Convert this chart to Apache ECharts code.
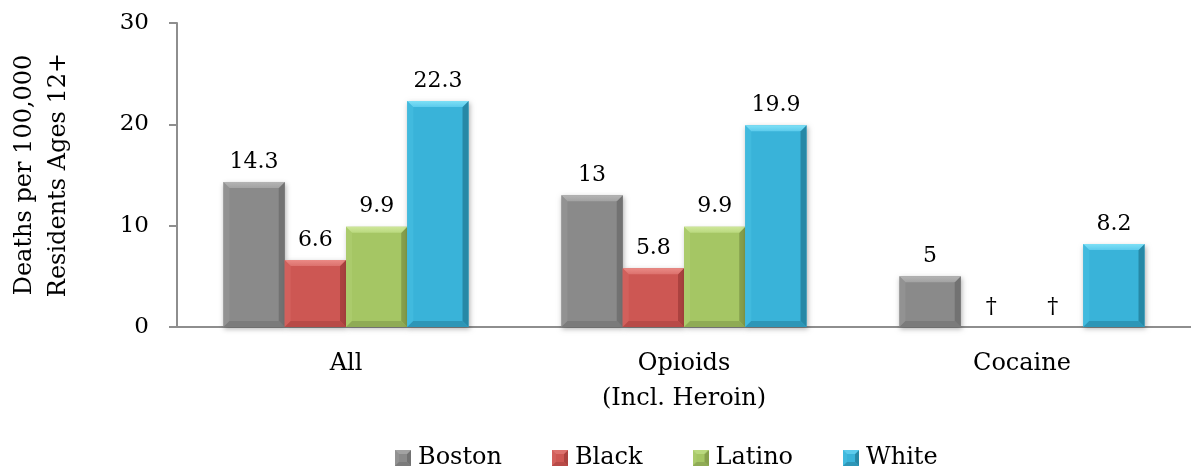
<!DOCTYPE html>
<html>
<head>
<meta charset="utf-8">
<script src="https://cdn.jsdelivr.net/npm/echarts@6/dist/echarts.min.js"></script>
<style>
  html, body { margin: 0; padding: 0; background: #fff; }
  #chart { width: 1191px; height: 466px; }
</style>
</head>
<body>
<div id="chart"></div>
<script>
// Drug overdose death rates by group (per 100,000 residents aged 12+)
const categories = ['All', 'Opioids\n(Incl. Heroin)', 'Cocaine'];
const seriesNames = ['Boston', 'Black', 'Latino', 'White'];
const boston = [14.3, 13, 5];
const black = [6.6, 5.8, null];
const latino = [9.9, 9.9, null];
const white = [22.3, 19.9, 8.2];
const yTicks = [0, 10, 20, 30];
const suppressedMark = '\u2020';

// Bevelled bar palette: body, top, left, right, bottom faces
const palettes = [
  { body: '#8a8a8a', topHi: '#b4b4b4', top: '#a2a2a2', left: '#929292', right: '#727272', bottom: '#7b7b7b' },
  { body: '#cd5753', topHi: '#ea8a85', top: '#dc716d', left: '#d2605c', right: '#ab423f', bottom: '#b84a47' },
  { body: '#a5c664', topHi: '#cfe79a', top: '#bad97f', left: '#abcb6c', right: '#86a04c', bottom: '#8fab55' },
  { body: '#39b3d9', topHi: '#7ee0f6', top: '#5ccbec', left: '#41bade', right: '#2688a6', bottom: '#2d96b7' }
];
const seriesValues = [boston, black, latino, white];
const FONT = 'DejaVu Serif';

function bevelShapes(x0, yT, x1, yB, p, b) {
  const topFill = {
    type: 'linear', x: 0, y: 0, x2: 0, y2: 1,
    colorStops: [{ offset: 0, color: p.topHi }, { offset: 1, color: p.top }]
  };
  return [
    { type: 'rect', shape: { x: x0, y: yT, width: x1 - x0, height: yB - yT },
      style: { fill: p.body, shadowBlur: 5, shadowOffsetY: 2, shadowOffsetX: 1, shadowColor: 'rgba(0,0,0,0.3)' } },
    { type: 'polygon', shape: { points: [[x0, yT], [x0 + b, yT + b], [x0 + b, yB - b], [x0, yB]] }, style: { fill: p.left } },
    { type: 'polygon', shape: { points: [[x1, yT], [x1, yB], [x1 - b, yB - b], [x1 - b, yT + b]] }, style: { fill: p.right } },
    { type: 'polygon', shape: { points: [[x0, yB], [x0 + b, yB - b], [x1 - b, yB - b], [x1, yB]] }, style: { fill: p.bottom } },
    { type: 'polygon', shape: { points: [[x0, yT], [x1, yT], [x1 - b, yT + b], [x0 + b, yT + b]] }, style: { fill: topFill } }
  ];
}

function legendIcon(p) {
  const c = document.createElement('canvas');
  c.width = 16; c.height = 16;
  const ctx = c.getContext('2d');
  const shapes = bevelShapes(0, 0, 16, 16, p, 4);
  shapes.forEach((s) => {
    ctx.fillStyle = typeof s.style.fill === 'string' ? s.style.fill : p.top;
    if (s.type === 'rect') {
      ctx.fillRect(0, 0, 16, 16);
    } else {
      ctx.beginPath();
      s.shape.points.forEach((pt, i) => (i ? ctx.lineTo(pt[0], pt[1]) : ctx.moveTo(pt[0], pt[1])));
      ctx.closePath();
      ctx.fill();
    }
  });
  return 'image://' + c.toDataURL();
}

const GROUP_FRACTION = 0.725;

function makeRenderItem(k) {
  return function (params, api) {
    const cat = api.value(0);
    const val = api.value(1);
    const band = api.size([1, 0])[0];
    const barW = band * GROUP_FRACTION / seriesNames.length;
    const center = api.coord([cat, 0])[0];
    const x0 = center - (barW * seriesNames.length) / 2 + k * barW;
    const x1 = x0 + barW;
    const base = api.coord([cat, 0])[1];
    const children = [];
    let labelY = base;
    let labelText = suppressedMark;
    if (!isNaN(val) && val !== null) {
      const top = api.coord([cat, val])[1];
      const b = Math.min(6, (base - top) / 2, barW / 2);
      bevelShapes(x0, top, x1, base, palettes[k], b).forEach((s) => children.push(s));
      labelY = top;
      labelText = String(val);
    }
    children.push({
      type: 'text',
      style: {
        x: (x0 + x1) / 2, y: labelY - 9,
        text: labelText, fill: '#000',
        font: '22px "' + FONT + '"',
        textAlign: 'center', textVerticalAlign: 'bottom'
      }
    });
    return { type: 'group', children: children };
  };
}

const chart = echarts.init(document.getElementById('chart'), null, { renderer: 'canvas' });

const series = seriesNames.map((name, k) => ({
  type: 'custom',
  name: name,
  renderItem: makeRenderItem(k),
  itemStyle: { color: palettes[k].body },
  encode: { x: 0, y: 1 },
  data: seriesValues[k].map((v, i) => [i, v === null ? '-' : v])
}));

chart.setOption({
  animation: false,
  backgroundColor: '#ffffff',
  textStyle: { fontFamily: FONT },
  grid: { left: 177, top: 23, width: 1026, bottom: 139, containLabel: false },
  legend: {
    left: 390,
    top: 441,
    itemWidth: 16,
    itemHeight: 16,
    itemGap: 50,
    textStyle: { fontFamily: FONT, fontSize: 24, color: '#000', padding: [0, 0, 0, 2] },
    data: seriesNames.map((n, k) => ({ name: n, icon: legendIcon(palettes[k]) }))
  },
  xAxis: {
    type: 'category',
    data: categories,
    axisLine: { show: true, lineStyle: { color: '#8e8e8e', width: 2 } },
    axisTick: { show: false },
    axisLabel: { fontFamily: FONT, fontSize: 24, color: '#000', lineHeight: 35, margin: 19 },
    splitLine: { show: false }
  },
  yAxis: {
    type: 'value',
    min: yTicks[0],
    max: yTicks[yTicks.length - 1],
    interval: 10,
    name: 'Deaths per 100,000\nResidents Ages 12+',
    nameLocation: 'middle',
    nameGap: 101,
    nameTextStyle: { fontFamily: FONT, fontSize: 24, color: '#000', lineHeight: 34 },
    axisLine: { show: true, lineStyle: { color: '#8e8e8e', width: 2 } },
    axisTick: { show: true, length: 8, lineStyle: { color: '#8e8e8e', width: 2 } },
    axisLabel: { fontFamily: FONT, fontSize: 23, color: '#000', margin: 28 },
    splitLine: { show: false }
  },
  series: series
});
</script>
</body>
</html>
